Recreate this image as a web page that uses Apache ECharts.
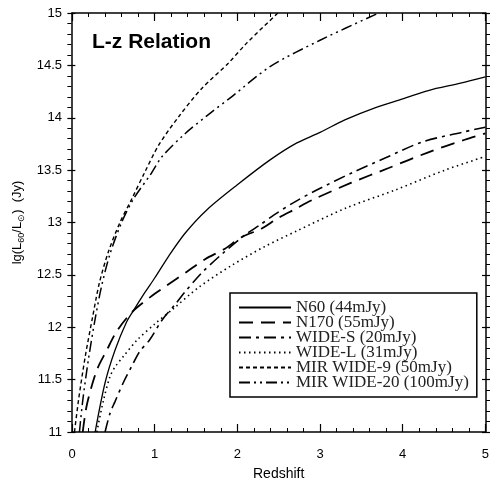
<!DOCTYPE html>
<html lang="en">
<head>
    <meta charset="UTF-8">
    <title>L-z Relation</title>
    <script src="https://cdn.jsdelivr.net/npm/echarts@6/dist/echarts.min.js"></script>
    <style>
        html, body { margin: 0; padding: 0; background: #fff; }
        #main { width: 492px; height: 486px; }
    </style>
</head>
<body>
<div id="main"></div>
<script>
    // data: [redshift, lg(L60/Lo)]
    var names = ['N60 (44mJy)', 'N170 (55mJy)', 'WIDE-S (20mJy)', 'WIDE-L (31mJy)', 'MIR WIDE-9 (50mJy)', 'MIR WIDE-20 (100mJy)'];
    var xTicks = [0, 1, 2, 3, 4, 5];
    var yTicks = [11, 11.5, 12, 12.5, 13, 13.5, 14, 14.5, 15];

    var n60 = [[0.28,11.0],[0.40,11.47],[0.52,11.78],[0.66,12.05],[0.76,12.18],[0.88,12.33],[1.0,12.47],[1.17,12.68],[1.37,12.9],[1.63,13.12],[2.0,13.36],[2.4,13.6],[2.72,13.76],[3.0,13.86],[3.3,13.98],[3.68,14.1],[4.0,14.18],[4.31,14.26],[4.7,14.33],[5.0,14.39]];
    var n170 = [[0.13,11.0],[0.18,11.26],[0.30,11.59],[0.42,11.78],[0.54,11.96],[0.72,12.14],[0.95,12.29],[1.15,12.40],[1.39,12.53],[1.61,12.65],[1.85,12.75],[2.05,12.86],[2.29,12.94],[2.49,13.04],[2.68,13.12],[2.92,13.22],[3.38,13.38],[3.83,13.52],[4.31,13.67],[4.75,13.79],[5.0,13.85]];
    var wideS = [[0.40,11.0],[0.46,11.18],[0.52,11.29],[0.62,11.47],[0.73,11.64],[0.82,11.77],[0.94,11.88],[1.09,12.07],[1.25,12.22],[1.37,12.34],[1.57,12.52],[1.83,12.71],[2.09,12.88],[2.28,12.98],[2.44,13.07],[2.68,13.19],[2.96,13.31],[3.4,13.48],[3.8,13.62],[4.24,13.77],[4.71,13.86],[5.0,13.91]];
    var wideL = [[0.30,11.0],[0.38,11.3],[0.46,11.53],[0.52,11.62],[0.62,11.72],[0.79,11.88],[1.0,12.03],[1.23,12.18],[1.53,12.38],[1.93,12.59],[2.33,12.77],[2.72,12.92],[3.32,13.14],[3.91,13.31],[4.51,13.5],[5.0,13.63]];
    var mir9 = [[0.03,11.0],[0.08,11.31],[0.16,11.72],[0.25,12.1],[0.33,12.42],[0.44,12.72],[0.58,13.0],[0.72,13.22],[0.88,13.48],[1.05,13.74],[1.29,14.01],[1.57,14.28],[1.89,14.52],[2.11,14.71],[2.49,15.0]];
    var mir20 = [[0.09,11.0],[0.13,11.3],[0.2,11.7],[0.28,12.08],[0.36,12.4],[0.46,12.7],[0.6,13.0],[0.74,13.22],[0.96,13.47],[1.09,13.63],[1.37,13.85],[1.65,14.03],[1.93,14.2],[2.4,14.49],[3.0,14.74],[3.71,15.0]];

    var chart = echarts.init(document.getElementById('main'));

    var sans = 'Liberation Sans, Arial, sans-serif';
    var gridW = 492 - 72 - 2, gridH = 486 - 13 - 54;

    function mkLine(name, data, dash, width) {
        return {
            name: name,
            type: 'line',
            data: data,
            smooth: 0.3,
            symbol: 'none',
            clip: true,
            lineStyle: { color: '#000', width: width, type: dash }
        };
    }

    // frame axes: line and labels only
    function frameAxis(kind, pos, show) {
        var a = {
            type: 'value', position: pos,
            axisLine: { show: true, onZero: false, lineStyle: { color: '#000', width: 1.5 } },
            axisTick: { show: false },
            splitLine: { show: false },
            axisLabel: { show: show, color: '#000', fontFamily: sans, fontSize: 13 }
        };
        if (kind == 'x') {
            a.min = xTicks[0]; a.max = xTicks[xTicks.length - 1]; a.interval = 1;
            a.axisLabel.margin = 16;
            if (show) {
                a.name = 'Redshift';
                a.nameLocation = 'middle';
                a.nameGap = 35;
                a.nameTextStyle = { color: '#000', fontFamily: sans, fontSize: 14 };
            }
        } else {
            a.min = yTicks[0]; a.max = yTicks[yTicks.length - 1]; a.interval = 0.5;
            a.axisLabel.margin = 10;
            if (show) {
                a.name = '{a|lg(L}{s|60}{a|/L}{s|\u2299}{a|)  (Jy)}';
                a.nameLocation = 'middle';
                a.nameGap = 46;
                a.nameRotate = 90;
                a.nameTextStyle = {
                    rich: {
                        a: { color: '#000', fontFamily: sans, fontSize: 13 },
                        s: { color: '#000', fontFamily: sans, fontSize: 9, padding: [7, 0, 0, 0] }
                    }
                };
            }
        }
        return a;
    }

    // tick axes: an opposite-side axis shifted across the grid so its ticks point inward
    function tickAxis(kind, pos, offset) {
        var a = {
            type: 'value', position: pos, offset: offset,
            axisLine: { show: false, onZero: false },
            axisTick: { show: true, length: 8, lineStyle: { color: '#000', width: 1.2 } },
            minorTick: { show: true, splitNumber: 5, length: 4, lineStyle: { color: '#000', width: 1 } },
            splitLine: { show: false },
            axisLabel: { show: false }
        };
        if (kind == 'x') {
            a.min = xTicks[0]; a.max = xTicks[xTicks.length - 1]; a.interval = 1;
        } else {
            a.min = yTicks[0]; a.max = yTicks[yTicks.length - 1]; a.interval = 0.5;
        }
        return a;
    }

    var option = {
        animation: false,
        backgroundColor: '#fff',
        grid: { left: 72, right: 2, top: 13, bottom: 54 },
        title: {
            text: 'L-z Relation',
            left: 87, top: 27,
            textStyle: { color: '#000', fontFamily: sans, fontSize: 21, fontWeight: 'bold' }
        },
        legend: {
            orient: 'vertical',
            left: 230, top: 293,
            itemWidth: 52, itemHeight: 10, itemGap: -2,
            padding: [6, 8, 6, 8],
            borderColor: '#000', borderWidth: 1.5,
            backgroundColor: '#fff',
            data: names,
            itemStyle: { color: 'rgba(0,0,0,0)', borderWidth: 0, opacity: 0 },
            textStyle: { color: '#222', fontFamily: 'Liberation Serif, Times New Roman, serif', fontSize: 17, lineHeight: 15 }
        },
        xAxis: [
            frameAxis('x', 'bottom', true),
            frameAxis('x', 'top', false),
            tickAxis('x', 'top', -gridH),
            tickAxis('x', 'bottom', -gridH)
        ],
        yAxis: [
            frameAxis('y', 'left', true),
            frameAxis('y', 'right', false),
            tickAxis('y', 'right', -gridW),
            tickAxis('y', 'left', -gridW)
        ],
        series: [
            mkLine(names[0], n60, 'solid', 1.3),
            mkLine(names[1], n170, [14, 8], 1.8),
            mkLine(names[2], wideS, [12, 5, 3, 5], 1.6),
            mkLine(names[3], wideL, [1.5, 3.5], 1.6),
            mkLine(names[4], mir9, [4, 3], 1.4),
            mkLine(names[5], mir20, [11, 4, 2, 4, 2, 4], 1.5)
        ]
    };
    chart.setOption(option);
</script>
</body>
</html>
